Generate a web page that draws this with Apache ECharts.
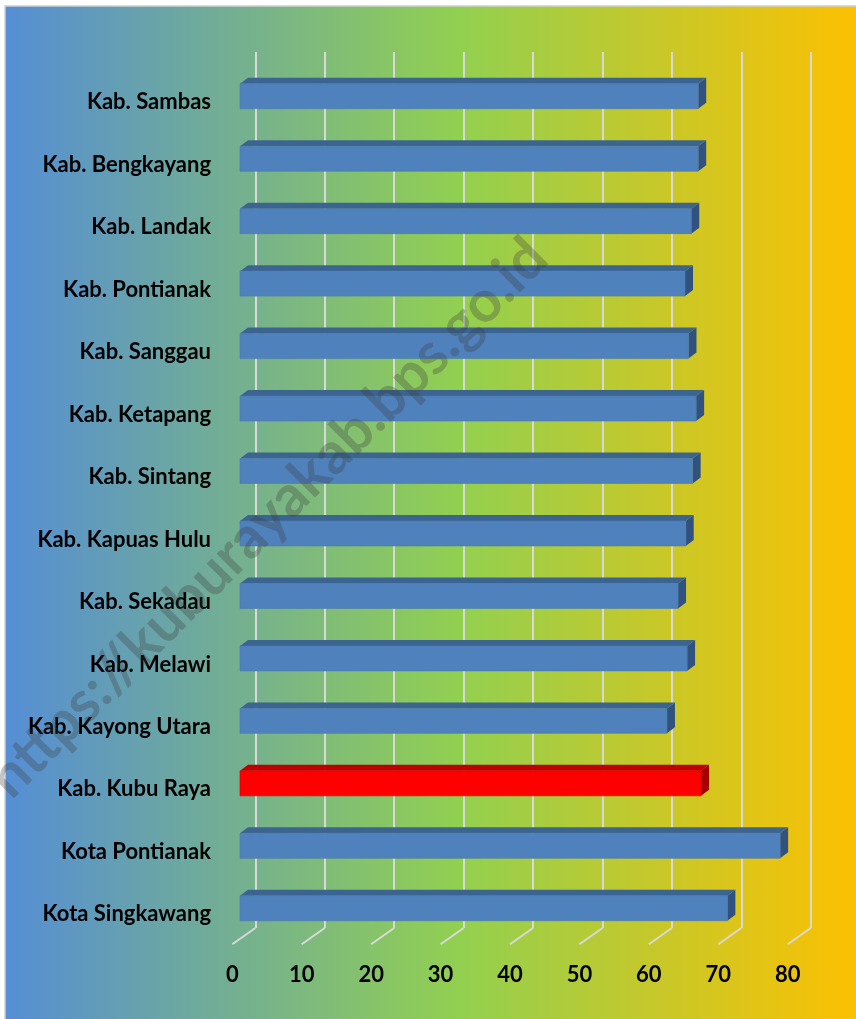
<!DOCTYPE html>
<html>
<head>
<meta charset="utf-8">
<script src="https://cdn.jsdelivr.net/npm/echarts@6/dist/echarts.min.js"></script>
<style>
  html, body { margin: 0; padding: 0; background: #fff; }
  #chart { width: 856px; height: 1019px; }
</style>
</head>
<body>
<div id="chart"></div>
<script>
var regions = [
  "Kab. Sambas", "Kab. Bengkayang", "Kab. Landak", "Kab. Pontianak",
  "Kab. Sanggau", "Kab. Ketapang", "Kab. Sintang", "Kab. Kapuas Hulu",
  "Kab. Sekadau", "Kab. Melawi", "Kab. Kayong Utara", "Kab. Kubu Raya",
  "Kota Pontianak", "Kota Singkawang"
];
var values = [66.0, 66.0, 65.0, 64.1, 64.6, 65.7, 65.2, 64.2, 63.1, 64.4, 61.5, 66.4, 77.8, 70.2];
var highlight = "Kab. Kubu Raya";
var xTicks = [0, 10, 20, 30, 40, 50, 60, 70, 80];

// oblique "3d" offsets (px)
var barDepth = [8, 6];
var floorDepth = [23, 16.3];

var chart = echarts.init(document.getElementById("chart"));

function barItem(params, api) {
  var idx = api.value(1);
  var p0 = api.coord([0, idx]);
  var p1 = api.coord([api.value(0), idx]);
  var h = api.size([0, 1])[1] * 0.4;
  var x0 = p0[0], x1 = p1[0], y0 = p0[1] - h / 2, y1 = p0[1] + h / 2;
  var dx = barDepth[0], dy = barDepth[1];
  var red = regions[idx] === highlight;
  var front = red ? "#ff0000" : "#4f81bd";
  var top = red ? "#c00000" : "#3c6491";
  var side = red ? "#a50000" : "#31527e";
  return {
    type: "group",
    children: [
      { type: "polygon", shape: { points: [[x0, y0], [x0 + dx, y0 - dy], [x1 + dx, y0 - dy], [x1, y0]] },
        style: { fill: top } },
      { type: "polygon", shape: { points: [[x1, y0], [x1 + dx, y0 - dy], [x1 + dx, y1 - dy], [x1, y1]] },
        style: { fill: side } },
      { type: "rect", shape: { x: x0, y: y0, width: x1 - x0, height: h },
        style: { fill: front, stroke: red ? "#d00000" : "#4a78b0", lineWidth: 0.6 } }
    ]
  };
}

function floorItem(params, api) {
  var p = api.coord([api.value(0), 0]);
  return {
    type: "line",
    shape: { x1: p[0], y1: p[1], x2: p[0] - floorDepth[0], y2: p[1] + floorDepth[1] },
    style: { stroke: "#d9d9d9", lineWidth: 2 }
  };
}

var labelFont = { color: "#000", fontFamily: "Lato", fontWeight: "bold", fontSize: 22 };

chart.setOption({
  animation: false,
  backgroundColor: "#ffffff",
  graphic: [
    {
      type: "rect", z: -10, silent: true,
      shape: { x: 5, y: 6, width: 860, height: 1030 },
      style: {
        stroke: "#d0d0d0", lineWidth: 1.5,
        fill: new echarts.graphic.LinearGradient(0, 0, 1, 0, [
          { offset: 0, color: "#558ed5" },
          { offset: 0.53, color: "#92d050" },
          { offset: 1, color: "#ffc000" }
        ])
      }
    },
    {
      type: "text", z: 100, silent: true,
      x: 268, y: 518, rotation: Math.PI / 4,
      style: {
        text: "https://kuburayakab.bps.go.id",
        font: "bold 58px Lato, sans-serif",
        fill: "rgba(60,60,60,0.3)",
        align: "center", verticalAlign: "middle"
      }
    }
  ],
  grid: [
    { left: 240, width: 555.4, top: 65, bottom: 79.5 },
    { left: 255.3, width: 555.4, top: 52, bottom: 91 },
    { left: 232.3, width: 555.4, top: 52, bottom: 75 },
    { left: 240, width: 555.4, top: 71, bottom: 73.5 }
  ],
  xAxis: [
    { gridIndex: 0, type: "value", min: 0, max: 80, interval: 10, show: false },
    { gridIndex: 1, type: "value", min: 0, max: 80, interval: 10,
      axisLine: { show: false }, axisTick: { show: false }, axisLabel: { show: false },
      splitLine: { show: true, lineStyle: { color: "#d9d9d9", width: 2 } } },
    { gridIndex: 2, type: "value", min: 0, max: 80, interval: 10,
      axisLine: { show: false }, axisTick: { show: false }, splitLine: { show: false },
      axisLabel: Object.assign({ margin: 20 }, labelFont) },
    { gridIndex: 3, type: "value", min: 0, max: 80, show: false }
  ],
  yAxis: [
    { gridIndex: 0, type: "category", data: regions, inverse: true, show: false },
    { gridIndex: 1, type: "value", min: 0, max: 1, show: false },
    { gridIndex: 2, type: "value", min: 0, max: 1, show: false },
    { gridIndex: 3, type: "category", data: regions, inverse: true,
      axisLine: { show: false }, axisTick: { show: false }, splitLine: { show: false },
      axisLabel: Object.assign({ margin: 29 }, labelFont) }
  ],
  series: [
    {
      type: "custom", xAxisIndex: 1, yAxisIndex: 1, z: 2,
      renderItem: floorItem,
      data: xTicks.map(function (t) { return [t]; })
    },
    {
      type: "custom", xAxisIndex: 0, yAxisIndex: 0, z: 5,
      renderItem: barItem,
      encode: { x: 0, y: 1 },
      data: values.map(function (v, i) { return [v, i]; })
    }
  ]
});
</script>
</body>
</html>
